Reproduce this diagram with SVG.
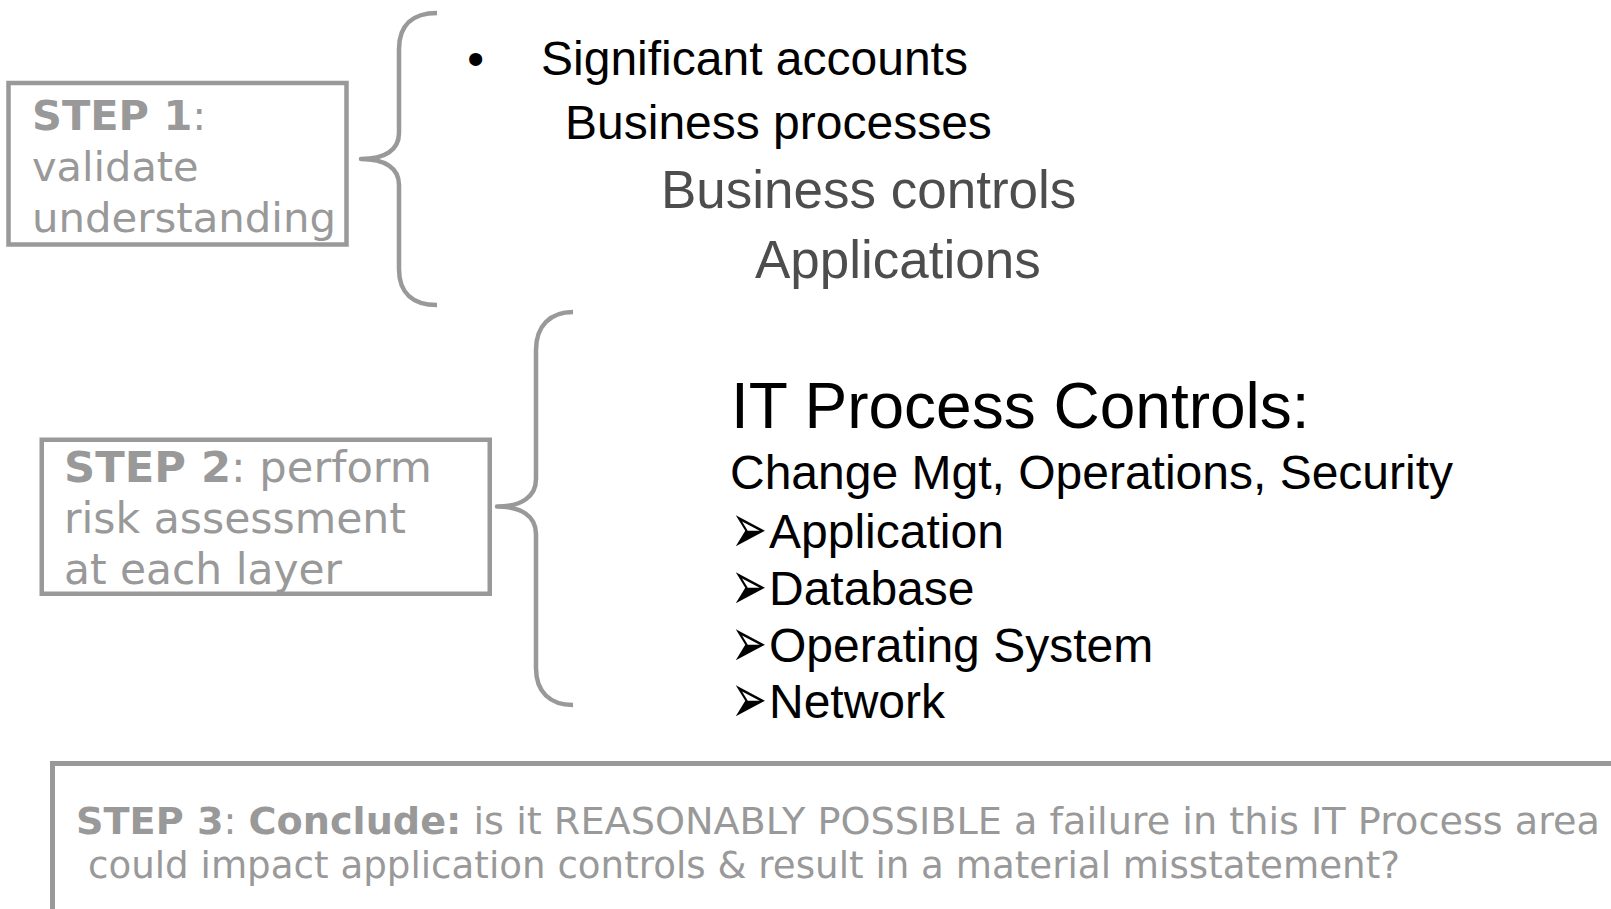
<svg xmlns="http://www.w3.org/2000/svg" width="1611" height="909" viewBox="0 0 1611 909">
  <defs>
    <style>
      .step-box { fill: none; stroke: #999999; stroke-width: 4.5; }
      .step-txt { font-family: "DejaVu Sans", Verdana, sans-serif; fill: #999999; }
      .b { font-weight: bold; }
      .brace { fill: none; stroke: #999999; stroke-width: 4.5; stroke-linecap: butt; stroke-linejoin: round; }
      .layer { font-family: "Liberation Sans", Arial, sans-serif; font-size: 48px; fill: #000000; }
      .layer-grey { font-family: "Liberation Sans", Arial, sans-serif; font-size: 53px; fill: #4d4d4d; }
      .itpc { font-family: "Liberation Sans", Arial, sans-serif; fill: #000000; }
      .arrow { font-family: "DejaVu Sans", sans-serif; font-size: 43px; fill: #000000; }
    </style>
  </defs>

  <rect width="1611" height="909" fill="#ffffff"/>

  <!-- step 1 -->
  <g id="step1">
    <rect class="step-box" x="8.5" y="83" width="338" height="161.5"/>
    <text class="step-txt" font-size="41.5" x="32" y="129.5"><tspan class="b">STEP 1</tspan>:</text>
    <text class="step-txt" font-size="41.5" x="32" y="181">validate</text>
    <text class="step-txt" font-size="41.5" x="32" y="232" textLength="304" lengthAdjust="spacingAndGlyphs">understanding</text>
  </g>

  <!-- layers covered by step 1 -->
  <g id="layers">
    <text class="layer" x="467.3" y="75">•</text>
    <text class="layer" x="541" y="75">Significant accounts</text>
    <text class="layer" x="565" y="139">Business processes</text>
    <text class="layer-grey" x="661" y="207.5">Business controls</text>
    <text class="layer-grey" x="755" y="278">Applications</text>
  </g>

  <!-- step 2 -->
  <g id="step2">
    <rect class="step-box" x="41.75" y="439.75" width="448" height="154"/>
    <text class="step-txt" font-size="42" x="64" y="482" textLength="368" lengthAdjust="spacingAndGlyphs"><tspan class="b">STEP 2</tspan>: perform</text>
    <text class="step-txt" font-size="42" x="64" y="533" textLength="342" lengthAdjust="spacingAndGlyphs">risk assessment</text>
    <text class="step-txt" font-size="42" x="64" y="584" textLength="278" lengthAdjust="spacingAndGlyphs">at each layer</text>
  </g>

  <!-- IT process controls covered by step 2; arrow bullets are stretched vertically -->
  <g id="it-process-controls">
    <text class="itpc" font-size="64" x="731" y="428">IT Process Controls:</text>
    <text class="itpc" font-size="48" x="730" y="489">Change Mgt, Operations, Security</text>
    <g transform="translate(731,530) scale(1,1.65)"><text class="arrow" x="0" y="14">➢</text></g>
    <text class="itpc" font-size="48" x="769" y="548">Application</text>
    <g transform="translate(731,587) scale(1,1.65)"><text class="arrow" x="0" y="14">➢</text></g>
    <text class="itpc" font-size="48" x="769" y="605">Database</text>
    <g transform="translate(731,643.5) scale(1,1.65)"><text class="arrow" x="0" y="14">➢</text></g>
    <text class="itpc" font-size="48" x="769" y="661.5">Operating System</text>
    <g transform="translate(731,700) scale(1,1.65)"><text class="arrow" x="0" y="14">➢</text></g>
    <text class="itpc" font-size="48" x="769" y="718">Network</text>
  </g>

  <!-- step 3 -->
  <g id="step3">
    <rect class="step-box" x="52.5" y="763.5" width="1620" height="200" style="stroke-width:5"/>
    <text class="step-txt" font-size="38" x="76" y="834" textLength="1524" lengthAdjust="spacingAndGlyphs"><tspan class="b">STEP 3</tspan>: <tspan class="b">Conclude:</tspan> is it REASONABLY POSSIBLE a failure in this IT Process area</text>
    <text class="step-txt" font-size="38" x="88" y="878" textLength="1312" lengthAdjust="spacingAndGlyphs">could impact application controls &amp; result in a material misstatement?</text>
  </g>

  <!-- braces linking steps to their layers -->
  <g id="connectors">
    <path class="brace" d="M437,13 C413,13 399,25 399,49 L399,133 C399,150 385,159 361,159 C385,159 399,168 399,185 L399,269 C399,293 413,305 437,305"/>
    <path class="brace" d="M573,312 C550,312 536,326 536,350 L536,479 C536,497 521,506.5 497,506.5 C521,506.5 536,516 536,534 L536,668 C536,692 550,705 573,705"/>
  </g>
</svg>
